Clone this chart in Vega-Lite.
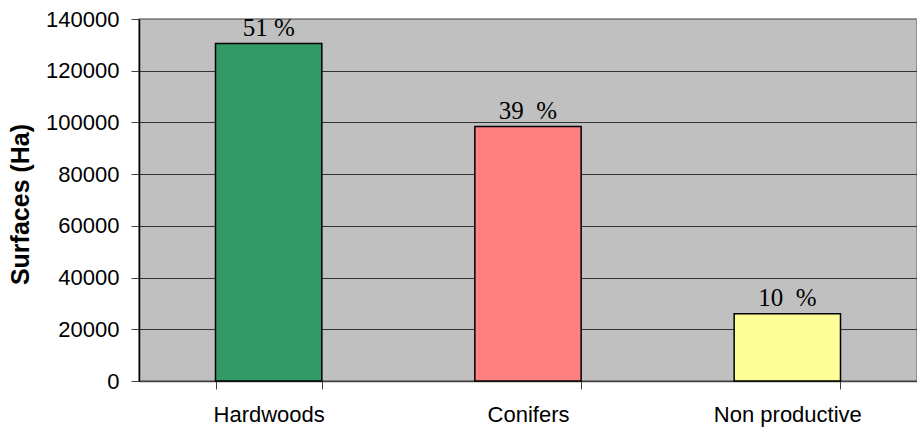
{
  "$schema": "https://vega.github.io/schema/vega-lite/v6.json",
  "width": 778,
  "height": 362,
  "autosize": {"type": "none"},
  "padding": {"left": 139, "top": 19, "right": 0, "bottom": 50},
  "background": "white",
  "config": {
    "view": {"fill": "#C0C0C0", "stroke": "#808080", "strokeWidth": 1.5},
    "font": "Liberation Sans"
  },
  "data": {
    "values": [
      {"type": "Hardwoods", "surface": 130500, "label": "51 %"},
      {"type": "Conifers", "surface": 98400, "label": "39 \u00a0%"},
      {"type": "Non productive", "surface": 26000, "label": "10 \u00a0%"}
    ]
  },
  "encoding": {
    "x": {
      "field": "type",
      "type": "nominal",
      "sort": null,
      "scale": {"paddingInner": 0.59, "paddingOuter": 0.295},
      "axis": {
        "title": null,
        "labelAngle": 0,
        "labelFont": "Liberation Sans",
        "labelFontSize": 22,
        "labelColor": "#000",
        "labelPadding": 15,
        "tickBand": "extent",
        "tickSize": 8,
        "tickColor": "#404040",
        "domainColor": "#404040",
        "domainWidth": 1.5,
        "grid": false
      }
    },
    "y": {
      "field": "surface",
      "type": "quantitative",
      "scale": {"domain": [0, 140000], "nice": false},
      "axis": {
        "title": "Surfaces (Ha)",
        "titleFont": "Liberation Sans",
        "titleFontSize": 25,
        "titleFontWeight": "bold",
        "titleColor": "#000",
        "titleAngle": -90,
        "titleAlign": "center",
        "titleBaseline": "middle",
        "titleX": -119,
        "titleY": 185,
        "values": [0, 20000, 40000, 60000, 80000, 100000, 120000, 140000],
        "format": "d",
        "labelFont": "Liberation Sans",
        "labelFontSize": 22,
        "labelColor": "#000",
        "labelPadding": 12,
        "tickSize": 8,
        "tickColor": "#404040",
        "domainColor": "#000",
        "domainWidth": 1.5,
        "grid": true,
        "gridColor": {"condition": {"test": "datum.value === 140000", "value": "#808080"}, "value": "#333333"},
        "gridWidth": 1
      }
    }
  },
  "layer": [
    {
      "mark": {"type": "bar", "stroke": "#000", "strokeWidth": 1.5},
      "encoding": {
        "color": {
          "field": "type",
          "type": "nominal",
          "scale": {"domain": ["Hardwoods", "Conifers", "Non productive"], "range": ["#339966", "#FF8080", "#FFFF99"]},
          "legend": null
        }
      }
    },
    {
      "mark": {"type": "text", "font": "Liberation Serif", "fontSize": 25, "baseline": "alphabetic", "dy": -8, "color": "#000"},
      "encoding": {
        "text": {"field": "label"}
      }
    }
  ]
}
